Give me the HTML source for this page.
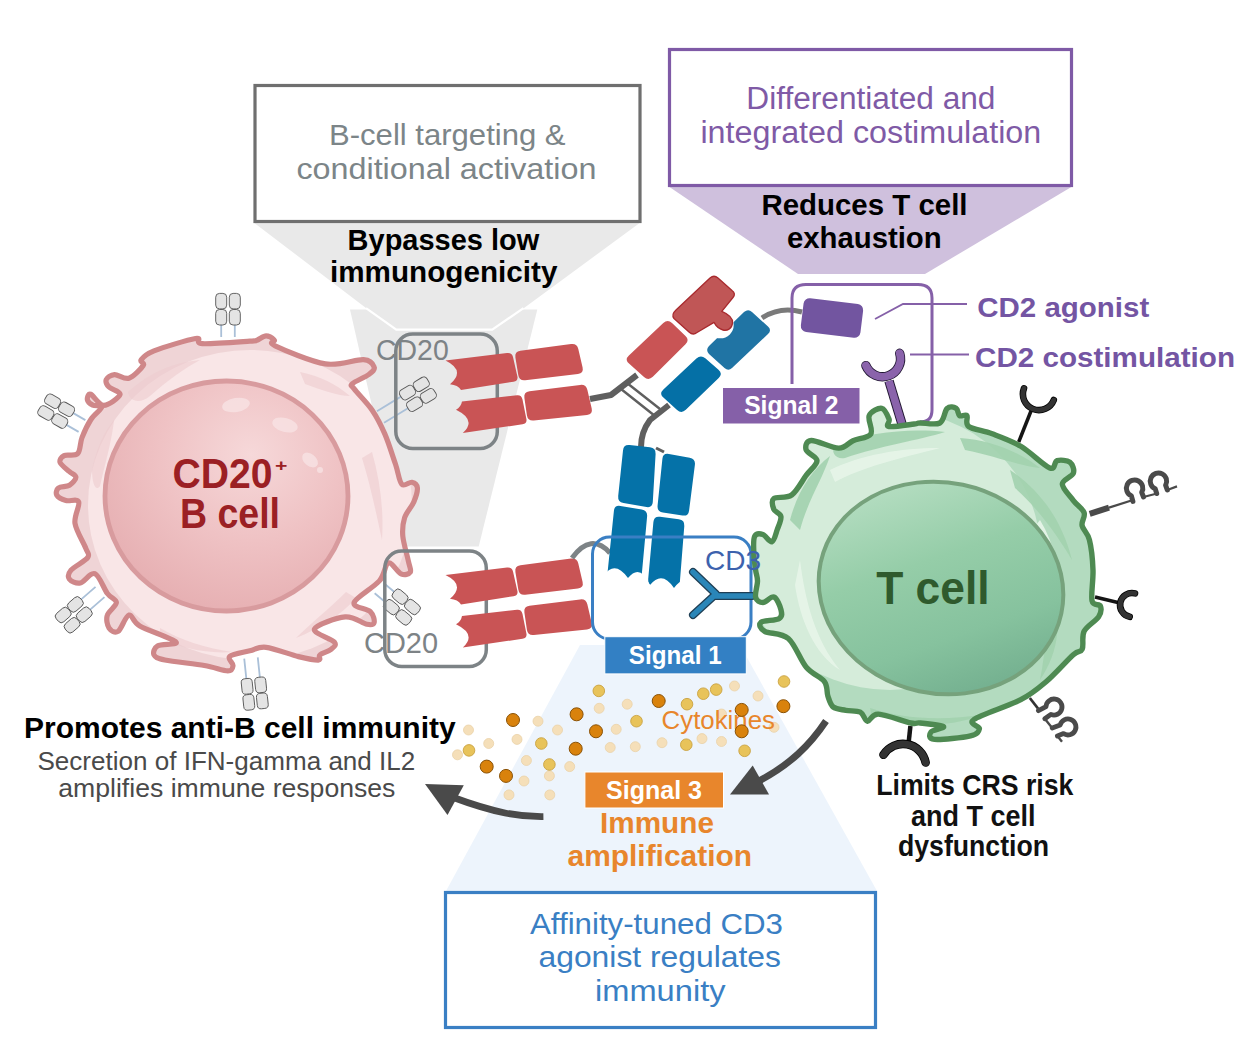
<!DOCTYPE html>
<html><head><meta charset="utf-8"><style>
html,body{margin:0;padding:0;background:#fff;width:1248px;height:1042px;overflow:hidden}
svg{display:block}
text{font-family:"Liberation Sans",sans-serif}
</style></head><body>
<svg width="1248" height="1042" viewBox="0 0 1248 1042" font-family="Liberation Sans, sans-serif"><polygon points="253,222 641,222 522,309.4 492.2,329.6 396.3,329.6 368,309.4" fill="#e9e9e9"/>
<polygon points="350,309.4 537.3,309.4 478.7,546.6 404,546.6" fill="#e9e9e9"/>
<polyline points="366,308.2 396.3,329.6 492.2,329.6 523.5,308.2" fill="none" stroke="#fff" stroke-width="2.2"/>
<polygon points="668,186 1073,186 925,274 798,274" fill="#cfc0dd"/>
<polygon points="580,645 740,645 877,891 446,891" fill="#edf4fc"/>
<rect x="255" y="85.5" width="385" height="136" fill="#fff" stroke="#6f6f6f" stroke-width="3.2"/>
<rect x="669.5" y="49.5" width="402" height="136" fill="#fff" stroke="#7f5aa6" stroke-width="3.2"/>
<rect x="445.5" y="892.5" width="430" height="135" fill="#fff" stroke="#3a7fc4" stroke-width="3.2"/>
<path d="M249.8,341.2 C258.9,340.6 254.3,341.1 257.0,340.2 C259.7,339.3 263.2,335.9 266.1,335.9 C269.0,335.9 272.7,338.5 274.2,340.1 C275.7,341.8 266.5,341.9 275.1,345.8 C283.6,349.8 310.7,361.5 325.4,363.9 C340.2,366.2 355.4,359.1 363.5,359.6 C371.7,360.2 373.4,364.7 374.2,367.1 C375.1,369.6 372.4,371.8 368.8,374.5 C365.2,377.3 354.9,381.2 352.5,383.6 C350.0,386.0 350.9,384.5 354.2,388.9 C357.5,393.4 367.1,402.7 372.2,410.2 C377.3,417.7 380.9,424.9 384.8,433.9 C388.7,443.0 392.7,456.1 395.6,464.5 C398.4,472.9 399.1,481.3 401.8,484.2 C404.5,487.2 409.2,481.7 411.8,482.3 C414.4,482.9 417.1,484.6 417.4,487.9 C417.7,491.2 415.9,497.0 413.8,502.0 C411.7,507.0 406.4,512.1 404.6,517.8 C402.8,523.5 402.2,528.8 402.8,536.1 C403.5,543.3 407.2,555.3 408.4,561.3 C409.7,567.3 411.5,570.1 410.3,572.2 C409.0,574.3 404.6,575.4 401.0,573.8 C397.3,572.3 392.0,561.8 388.4,563.0 C384.8,564.2 385.1,574.4 379.4,580.9 C373.7,587.5 355.6,597.5 354.1,602.6 C352.6,607.7 367.0,608.3 370.3,611.6 C373.6,614.9 374.7,620.4 374.1,622.6 C373.6,624.7 371.7,625.2 366.9,624.3 C362.1,623.4 353.9,616.1 345.2,616.9 C336.5,617.7 316.3,624.9 314.5,629.1 C312.7,633.3 331.7,638.8 334.4,642.2 C337.1,645.6 333.2,647.3 330.8,649.5 C328.4,651.6 322.0,653.1 319.9,654.9 C317.8,656.6 321.9,659.8 318.3,660.1 C314.7,660.3 307.2,658.7 298.5,656.6 C289.8,654.4 274.2,648.3 266.1,647.3 C257.9,646.4 255.9,649.3 249.8,650.8 C243.7,652.3 232.5,654.0 229.7,656.4 C226.9,658.9 233.4,663.1 233.0,665.5 C232.7,667.9 232.6,670.8 227.8,670.8 C223.0,670.8 214.9,667.3 204.4,665.5 C193.9,663.7 173.3,661.8 164.9,660.0 C156.5,658.2 155.2,657.2 154.0,654.9 C152.9,652.5 154.1,647.9 157.8,645.8 C161.4,643.6 178.9,645.3 175.9,642.0 C172.9,638.7 147.6,630.3 139.8,625.9 C131.9,621.4 132.6,614.2 129.0,615.1 C125.4,616.0 121.4,629.3 118.1,631.4 C114.7,633.5 110.8,630.5 109.0,627.9 C107.2,625.2 106.0,619.5 107.3,615.3 C108.5,611.0 116.4,606.2 116.4,602.6 C116.4,599.0 111.0,598.3 107.4,593.5 C103.8,588.7 99.4,575.5 94.9,573.7 C90.3,572.0 84.5,582.1 80.3,583.0 C76.0,583.9 70.8,581.2 69.3,579.1 C67.8,576.9 68.0,573.8 71.0,570.2 C74.1,566.6 85.2,561.2 87.7,557.5 C90.1,553.9 87.9,554.1 85.8,548.4 C83.7,542.7 76.2,531.1 75.0,523.4 C73.8,515.7 80.2,505.8 78.7,502.0 C77.2,498.2 69.6,501.7 65.9,500.5 C62.2,499.4 58.0,497.2 56.8,495.1 C55.6,493.0 56.5,489.5 58.6,487.9 C60.7,486.2 66.6,487.0 69.5,485.2 C72.4,483.4 75.9,479.5 75.9,477.2 C75.8,474.8 71.8,473.9 69.2,471.4 C66.5,469.0 61.0,465.1 60.1,462.5 C59.3,459.9 61.2,457.1 64.1,455.6 C67.0,454.1 74.6,456.7 77.6,453.7 C80.6,450.7 79.8,443.3 82.0,437.6 C84.2,431.9 87.6,424.6 90.9,419.5 C94.2,414.4 101.5,409.4 101.8,407.0 C102.1,404.6 95.2,406.5 92.8,405.2 C90.4,404.0 87.7,401.5 87.4,399.7 C87.1,397.8 88.0,393.4 90.8,394.3 C93.5,395.3 98.9,405.3 103.8,405.3 C108.6,405.3 119.1,397.5 120.0,394.5 C120.9,391.5 111.3,389.6 109.0,387.1 C106.7,384.6 105.4,381.6 106.3,379.5 C107.2,377.4 110.7,374.8 114.5,374.6 C118.3,374.4 124.1,379.7 128.9,378.2 C133.7,376.7 141.2,368.6 143.2,365.5 C145.3,362.5 139.4,362.3 141.2,359.8 C143.0,357.4 145.0,354.5 154.0,350.9 C163.1,347.4 187.5,339.8 195.5,338.5 C203.6,337.3 193.4,343.2 202.5,343.7 C211.5,344.1 240.7,341.8 249.8,341.2Z" fill="#efd4d6" stroke="none" stroke-linejoin="round"/>
<clipPath id="bclip"><path d="M249.8,341.2 C258.9,340.6 254.3,341.1 257.0,340.2 C259.7,339.3 263.2,335.9 266.1,335.9 C269.0,335.9 272.7,338.5 274.2,340.1 C275.7,341.8 266.5,341.9 275.1,345.8 C283.6,349.8 310.7,361.5 325.4,363.9 C340.2,366.2 355.4,359.1 363.5,359.6 C371.7,360.2 373.4,364.7 374.2,367.1 C375.1,369.6 372.4,371.8 368.8,374.5 C365.2,377.3 354.9,381.2 352.5,383.6 C350.0,386.0 350.9,384.5 354.2,388.9 C357.5,393.4 367.1,402.7 372.2,410.2 C377.3,417.7 380.9,424.9 384.8,433.9 C388.7,443.0 392.7,456.1 395.6,464.5 C398.4,472.9 399.1,481.3 401.8,484.2 C404.5,487.2 409.2,481.7 411.8,482.3 C414.4,482.9 417.1,484.6 417.4,487.9 C417.7,491.2 415.9,497.0 413.8,502.0 C411.7,507.0 406.4,512.1 404.6,517.8 C402.8,523.5 402.2,528.8 402.8,536.1 C403.5,543.3 407.2,555.3 408.4,561.3 C409.7,567.3 411.5,570.1 410.3,572.2 C409.0,574.3 404.6,575.4 401.0,573.8 C397.3,572.3 392.0,561.8 388.4,563.0 C384.8,564.2 385.1,574.4 379.4,580.9 C373.7,587.5 355.6,597.5 354.1,602.6 C352.6,607.7 367.0,608.3 370.3,611.6 C373.6,614.9 374.7,620.4 374.1,622.6 C373.6,624.7 371.7,625.2 366.9,624.3 C362.1,623.4 353.9,616.1 345.2,616.9 C336.5,617.7 316.3,624.9 314.5,629.1 C312.7,633.3 331.7,638.8 334.4,642.2 C337.1,645.6 333.2,647.3 330.8,649.5 C328.4,651.6 322.0,653.1 319.9,654.9 C317.8,656.6 321.9,659.8 318.3,660.1 C314.7,660.3 307.2,658.7 298.5,656.6 C289.8,654.4 274.2,648.3 266.1,647.3 C257.9,646.4 255.9,649.3 249.8,650.8 C243.7,652.3 232.5,654.0 229.7,656.4 C226.9,658.9 233.4,663.1 233.0,665.5 C232.7,667.9 232.6,670.8 227.8,670.8 C223.0,670.8 214.9,667.3 204.4,665.5 C193.9,663.7 173.3,661.8 164.9,660.0 C156.5,658.2 155.2,657.2 154.0,654.9 C152.9,652.5 154.1,647.9 157.8,645.8 C161.4,643.6 178.9,645.3 175.9,642.0 C172.9,638.7 147.6,630.3 139.8,625.9 C131.9,621.4 132.6,614.2 129.0,615.1 C125.4,616.0 121.4,629.3 118.1,631.4 C114.7,633.5 110.8,630.5 109.0,627.9 C107.2,625.2 106.0,619.5 107.3,615.3 C108.5,611.0 116.4,606.2 116.4,602.6 C116.4,599.0 111.0,598.3 107.4,593.5 C103.8,588.7 99.4,575.5 94.9,573.7 C90.3,572.0 84.5,582.1 80.3,583.0 C76.0,583.9 70.8,581.2 69.3,579.1 C67.8,576.9 68.0,573.8 71.0,570.2 C74.1,566.6 85.2,561.2 87.7,557.5 C90.1,553.9 87.9,554.1 85.8,548.4 C83.7,542.7 76.2,531.1 75.0,523.4 C73.8,515.7 80.2,505.8 78.7,502.0 C77.2,498.2 69.6,501.7 65.9,500.5 C62.2,499.4 58.0,497.2 56.8,495.1 C55.6,493.0 56.5,489.5 58.6,487.9 C60.7,486.2 66.6,487.0 69.5,485.2 C72.4,483.4 75.9,479.5 75.9,477.2 C75.8,474.8 71.8,473.9 69.2,471.4 C66.5,469.0 61.0,465.1 60.1,462.5 C59.3,459.9 61.2,457.1 64.1,455.6 C67.0,454.1 74.6,456.7 77.6,453.7 C80.6,450.7 79.8,443.3 82.0,437.6 C84.2,431.9 87.6,424.6 90.9,419.5 C94.2,414.4 101.5,409.4 101.8,407.0 C102.1,404.6 95.2,406.5 92.8,405.2 C90.4,404.0 87.7,401.5 87.4,399.7 C87.1,397.8 88.0,393.4 90.8,394.3 C93.5,395.3 98.9,405.3 103.8,405.3 C108.6,405.3 119.1,397.5 120.0,394.5 C120.9,391.5 111.3,389.6 109.0,387.1 C106.7,384.6 105.4,381.6 106.3,379.5 C107.2,377.4 110.7,374.8 114.5,374.6 C118.3,374.4 124.1,379.7 128.9,378.2 C133.7,376.7 141.2,368.6 143.2,365.5 C145.3,362.5 139.4,362.3 141.2,359.8 C143.0,357.4 145.0,354.5 154.0,350.9 C163.1,347.4 187.5,339.8 195.5,338.5 C203.6,337.3 193.4,343.2 202.5,343.7 C211.5,344.1 240.7,341.8 249.8,341.2Z"/></clipPath>
<g clip-path="url(#bclip)">
<ellipse cx="250" cy="505" rx="162" ry="155" fill="#f9e6e7"/>
<path d="M128,392 C150,372 175,362 200,360 C185,368 168,380 150,396 C140,404 130,402 128,392Z" fill="#ecccce" opacity="0.6"/>
<path d="M300,372 C320,376 336,384 350,396 C338,396 322,390 305,384Z" fill="#ecccce" opacity="0.6"/>
<path d="M92,470 C96,450 104,432 114,420 C112,440 106,460 100,486 C96,492 92,484 92,470Z" fill="#ecccce" opacity="0.6"/>
<path d="M356,598 C340,616 320,628 296,638 C310,624 330,608 346,592Z" fill="#ecccce" opacity="0.6"/>
<path d="M160,628 C180,640 205,648 232,652 C206,654 182,648 160,638Z" fill="#ecccce" opacity="0.6"/>
<path d="M372,452 C380,480 384,510 382,540 C376,512 370,484 362,458Z" fill="#ecccce" opacity="0.6"/>
</g>
<path d="M249.8,341.2 C258.9,340.6 254.3,341.1 257.0,340.2 C259.7,339.3 263.2,335.9 266.1,335.9 C269.0,335.9 272.7,338.5 274.2,340.1 C275.7,341.8 266.5,341.9 275.1,345.8 C283.6,349.8 310.7,361.5 325.4,363.9 C340.2,366.2 355.4,359.1 363.5,359.6 C371.7,360.2 373.4,364.7 374.2,367.1 C375.1,369.6 372.4,371.8 368.8,374.5 C365.2,377.3 354.9,381.2 352.5,383.6 C350.0,386.0 350.9,384.5 354.2,388.9 C357.5,393.4 367.1,402.7 372.2,410.2 C377.3,417.7 380.9,424.9 384.8,433.9 C388.7,443.0 392.7,456.1 395.6,464.5 C398.4,472.9 399.1,481.3 401.8,484.2 C404.5,487.2 409.2,481.7 411.8,482.3 C414.4,482.9 417.1,484.6 417.4,487.9 C417.7,491.2 415.9,497.0 413.8,502.0 C411.7,507.0 406.4,512.1 404.6,517.8 C402.8,523.5 402.2,528.8 402.8,536.1 C403.5,543.3 407.2,555.3 408.4,561.3 C409.7,567.3 411.5,570.1 410.3,572.2 C409.0,574.3 404.6,575.4 401.0,573.8 C397.3,572.3 392.0,561.8 388.4,563.0 C384.8,564.2 385.1,574.4 379.4,580.9 C373.7,587.5 355.6,597.5 354.1,602.6 C352.6,607.7 367.0,608.3 370.3,611.6 C373.6,614.9 374.7,620.4 374.1,622.6 C373.6,624.7 371.7,625.2 366.9,624.3 C362.1,623.4 353.9,616.1 345.2,616.9 C336.5,617.7 316.3,624.9 314.5,629.1 C312.7,633.3 331.7,638.8 334.4,642.2 C337.1,645.6 333.2,647.3 330.8,649.5 C328.4,651.6 322.0,653.1 319.9,654.9 C317.8,656.6 321.9,659.8 318.3,660.1 C314.7,660.3 307.2,658.7 298.5,656.6 C289.8,654.4 274.2,648.3 266.1,647.3 C257.9,646.4 255.9,649.3 249.8,650.8 C243.7,652.3 232.5,654.0 229.7,656.4 C226.9,658.9 233.4,663.1 233.0,665.5 C232.7,667.9 232.6,670.8 227.8,670.8 C223.0,670.8 214.9,667.3 204.4,665.5 C193.9,663.7 173.3,661.8 164.9,660.0 C156.5,658.2 155.2,657.2 154.0,654.9 C152.9,652.5 154.1,647.9 157.8,645.8 C161.4,643.6 178.9,645.3 175.9,642.0 C172.9,638.7 147.6,630.3 139.8,625.9 C131.9,621.4 132.6,614.2 129.0,615.1 C125.4,616.0 121.4,629.3 118.1,631.4 C114.7,633.5 110.8,630.5 109.0,627.9 C107.2,625.2 106.0,619.5 107.3,615.3 C108.5,611.0 116.4,606.2 116.4,602.6 C116.4,599.0 111.0,598.3 107.4,593.5 C103.8,588.7 99.4,575.5 94.9,573.7 C90.3,572.0 84.5,582.1 80.3,583.0 C76.0,583.9 70.8,581.2 69.3,579.1 C67.8,576.9 68.0,573.8 71.0,570.2 C74.1,566.6 85.2,561.2 87.7,557.5 C90.1,553.9 87.9,554.1 85.8,548.4 C83.7,542.7 76.2,531.1 75.0,523.4 C73.8,515.7 80.2,505.8 78.7,502.0 C77.2,498.2 69.6,501.7 65.9,500.5 C62.2,499.4 58.0,497.2 56.8,495.1 C55.6,493.0 56.5,489.5 58.6,487.9 C60.7,486.2 66.6,487.0 69.5,485.2 C72.4,483.4 75.9,479.5 75.9,477.2 C75.8,474.8 71.8,473.9 69.2,471.4 C66.5,469.0 61.0,465.1 60.1,462.5 C59.3,459.9 61.2,457.1 64.1,455.6 C67.0,454.1 74.6,456.7 77.6,453.7 C80.6,450.7 79.8,443.3 82.0,437.6 C84.2,431.9 87.6,424.6 90.9,419.5 C94.2,414.4 101.5,409.4 101.8,407.0 C102.1,404.6 95.2,406.5 92.8,405.2 C90.4,404.0 87.7,401.5 87.4,399.7 C87.1,397.8 88.0,393.4 90.8,394.3 C93.5,395.3 98.9,405.3 103.8,405.3 C108.6,405.3 119.1,397.5 120.0,394.5 C120.9,391.5 111.3,389.6 109.0,387.1 C106.7,384.6 105.4,381.6 106.3,379.5 C107.2,377.4 110.7,374.8 114.5,374.6 C118.3,374.4 124.1,379.7 128.9,378.2 C133.7,376.7 141.2,368.6 143.2,365.5 C145.3,362.5 139.4,362.3 141.2,359.8 C143.0,357.4 145.0,354.5 154.0,350.9 C163.1,347.4 187.5,339.8 195.5,338.5 C203.6,337.3 193.4,343.2 202.5,343.7 C211.5,344.1 240.7,341.8 249.8,341.2Z" fill="none" stroke="#cf8789" stroke-width="5.2" stroke-linejoin="round"/>
<defs><radialGradient id="nucB" cx="0.6" cy="0.32" r="0.75"><stop offset="0" stop-color="#f6d8d9"/><stop offset="0.5" stop-color="#efc2c4"/><stop offset="1" stop-color="#e5adb0"/></radialGradient><linearGradient id="nucT" x1="0.2" y1="0.1" x2="0.8" y2="0.95"><stop offset="0" stop-color="#b2dcbf"/><stop offset="0.35" stop-color="#95cda8"/><stop offset="0.7" stop-color="#86c29e"/><stop offset="1" stop-color="#72ae8e"/></linearGradient></defs>
<ellipse cx="226.5" cy="496" rx="121.5" ry="115" fill="url(#nucB)" stroke="#d89b9e" stroke-width="4.8"/>
<ellipse cx="236" cy="405" rx="14" ry="7" transform="rotate(-10 236 405)" fill="#f8e2e3" opacity="0.8"/>
<ellipse cx="285" cy="425" rx="13" ry="7" transform="rotate(15 285 425)" fill="#f8e2e3" opacity="0.8"/>
<ellipse cx="310" cy="460" rx="9" ry="6" transform="rotate(40 310 460)" fill="#f8e2e3" opacity="0.8"/>
<ellipse cx="320" cy="470" rx="3" ry="3" transform="rotate(0 320 470)" fill="#f8e2e3" opacity="0.8"/>
<text x="172.4" y="487.7" font-size="42" font-weight="bold" fill="#9b2024" textLength="100" lengthAdjust="spacingAndGlyphs">CD20</text>
<text x="275" y="471.4" font-size="17" font-weight="bold" fill="#9b2024" textLength="12.4" lengthAdjust="spacingAndGlyphs">+</text>
<text x="180" y="527.6" font-size="42" font-weight="bold" fill="#9b2024" textLength="100" lengthAdjust="spacingAndGlyphs">B cell</text>
<g transform="translate(228,337) rotate(0)"><path d="M-6.8,0 L-6.8,-12 M6.8,0 L6.8,-12" stroke="#aac0d8" stroke-width="1.8" fill="none"/><rect x="-12.3" y="-27.5" width="11" height="15.5" rx="3.8" fill="#e4e4e4" stroke="#555" stroke-width="0.9"/><rect x="-12.3" y="-43.6" width="11" height="15.5" rx="3.8" fill="#e4e4e4" stroke="#555" stroke-width="0.9"/><rect x="1.2999999999999998" y="-27.5" width="11" height="15.5" rx="3.8" fill="#e4e4e4" stroke="#555" stroke-width="0.9"/><rect x="1.2999999999999998" y="-43.6" width="11" height="15.5" rx="3.8" fill="#e4e4e4" stroke="#555" stroke-width="0.9"/></g>
<g transform="translate(82,426) rotate(-60)"><path d="M-6.8,0 L-6.8,-14 M6.8,0 L6.8,-14" stroke="#aac0d8" stroke-width="1.8" fill="none"/><rect x="-12.3" y="-29.5" width="11" height="15.5" rx="3.8" fill="#e4e4e4" stroke="#555" stroke-width="0.9"/><rect x="-12.3" y="-45.6" width="11" height="15.5" rx="3.8" fill="#e4e4e4" stroke="#555" stroke-width="0.9"/><rect x="1.2999999999999998" y="-29.5" width="11" height="15.5" rx="3.8" fill="#e4e4e4" stroke="#555" stroke-width="0.9"/><rect x="1.2999999999999998" y="-45.6" width="11" height="15.5" rx="3.8" fill="#e4e4e4" stroke="#555" stroke-width="0.9"/></g>
<g transform="translate(100,592) rotate(-131)"><path d="M-6.8,0 L-6.8,-19 M6.8,0 L6.8,-19" stroke="#aac0d8" stroke-width="1.8" fill="none"/><rect x="-12.3" y="-34.5" width="11" height="15.5" rx="3.8" fill="#e4e4e4" stroke="#555" stroke-width="0.9"/><rect x="-12.3" y="-50.6" width="11" height="15.5" rx="3.8" fill="#e4e4e4" stroke="#555" stroke-width="0.9"/><rect x="1.2999999999999998" y="-34.5" width="11" height="15.5" rx="3.8" fill="#e4e4e4" stroke="#555" stroke-width="0.9"/><rect x="1.2999999999999998" y="-50.6" width="11" height="15.5" rx="3.8" fill="#e4e4e4" stroke="#555" stroke-width="0.9"/></g>
<g transform="translate(251,658) rotate(174)"><path d="M-6.8,0 L-6.8,-20 M6.8,0 L6.8,-20" stroke="#aac0d8" stroke-width="1.8" fill="none"/><rect x="-12.3" y="-35.5" width="11" height="15.5" rx="3.8" fill="#e4e4e4" stroke="#555" stroke-width="0.9"/><rect x="-12.3" y="-51.6" width="11" height="15.5" rx="3.8" fill="#e4e4e4" stroke="#555" stroke-width="0.9"/><rect x="1.2999999999999998" y="-35.5" width="11" height="15.5" rx="3.8" fill="#e4e4e4" stroke="#555" stroke-width="0.9"/><rect x="1.2999999999999998" y="-51.6" width="11" height="15.5" rx="3.8" fill="#e4e4e4" stroke="#555" stroke-width="0.9"/></g>
<g transform="translate(380.5,417) rotate(58.7)"><path d="M-6.8,0 L-6.8,-28 M6.8,0 L6.8,-28" stroke="#aac0d8" stroke-width="1.8" fill="none"/><rect x="-12.3" y="-43.5" width="11" height="15.5" rx="3.8" fill="#e4e4e4" stroke="#555" stroke-width="0.9"/><rect x="-12.3" y="-59.6" width="11" height="15.5" rx="3.8" fill="#e4e4e4" stroke="#555" stroke-width="0.9"/><rect x="1.2999999999999998" y="-43.5" width="11" height="15.5" rx="3.8" fill="#e4e4e4" stroke="#555" stroke-width="0.9"/><rect x="1.2999999999999998" y="-59.6" width="11" height="15.5" rx="3.8" fill="#e4e4e4" stroke="#555" stroke-width="0.9"/></g>
<g transform="translate(379,588) rotate(129.8)"><path d="M-6.8,0 L-6.8,-14 M6.8,0 L6.8,-14" stroke="#aac0d8" stroke-width="1.8" fill="none"/><rect x="-12.3" y="-29.5" width="11" height="15.5" rx="3.8" fill="#e4e4e4" stroke="#555" stroke-width="0.9"/><rect x="-12.3" y="-45.6" width="11" height="15.5" rx="3.8" fill="#e4e4e4" stroke="#555" stroke-width="0.9"/><rect x="1.2999999999999998" y="-29.5" width="11" height="15.5" rx="3.8" fill="#e4e4e4" stroke="#555" stroke-width="0.9"/><rect x="1.2999999999999998" y="-45.6" width="11" height="15.5" rx="3.8" fill="#e4e4e4" stroke="#555" stroke-width="0.9"/></g>
<rect x="395.8" y="334" width="101.5" height="114.5" rx="17" fill="none" stroke="#7d8386" stroke-width="3.5"/>
<rect x="384.8" y="551" width="101.5" height="115.5" rx="17" fill="none" stroke="#7d8386" stroke-width="3.5"/>
<text x="376" y="360" font-size="30" fill="#7d8386" textLength="72.7" lengthAdjust="spacingAndGlyphs">CD20</text>
<text x="364" y="653" font-size="30" fill="#7d8386" textLength="74" lengthAdjust="spacingAndGlyphs">CD20</text>
<g transform="translate(0,0)" fill="#c95455"><path d="M445.5,360.5 L507,353 Q512,352.5 513,357 L517.5,377 Q518,381 513.5,381.7 L461,390 Q458,385 450,384.2 Q466,370.5 445.5,360.5 Z"/><path d="M462,401.5 L517,395.3 Q521.5,394.8 522.5,399.5 L526.5,419.5 Q527,423.6 522.5,424.3 L462.8,433 Q477.2,420 456,409.7 Q461,407 462,401.5 Z"/><path d="M515.4,357.5 Q514.5,351.6 520.4,350.8 L571.1,344.0 Q577.0,343.2 578.3,349.0 L582.6,367.5 Q583.9,373.3 577.9,374.0 L525.2,380.3 Q519.2,381.0 518.3,375.1 Z"/><path d="M524.4,397.9 Q523.5,392.0 529.5,391.3 L580.1,384.9 Q586.1,384.2 587.4,390.0 L591.7,408.5 Q593.0,414.3 587.0,414.9 L533.8,420.5 Q527.8,421.1 526.9,415.2 Z"/></g>
<g transform="translate(0,214.5)" fill="#c95455"><path d="M445.5,360.5 L507,353 Q512,352.5 513,357 L517.5,377 Q518,381 513.5,381.7 L461,390 Q458,385 450,384.2 Q466,370.5 445.5,360.5 Z"/><path d="M462,401.5 L517,395.3 Q521.5,394.8 522.5,399.5 L526.5,419.5 Q527,423.6 522.5,424.3 L462.8,433 Q477.2,420 456,409.7 Q461,407 462,401.5 Z"/><path d="M515.4,357.5 Q514.5,351.6 520.4,350.8 L571.1,344.0 Q577.0,343.2 578.3,349.0 L582.6,367.5 Q583.9,373.3 577.9,374.0 L525.2,380.3 Q519.2,381.0 518.3,375.1 Z"/><path d="M524.4,397.9 Q523.5,392.0 529.5,391.3 L580.1,384.9 Q586.1,384.2 587.4,390.0 L591.7,408.5 Q593.0,414.3 587.0,414.9 L533.8,420.5 Q527.8,421.1 526.9,415.2 Z"/></g>
<path d="M590,399 L611,395 L637,375" fill="none" stroke="#5f5f5f" stroke-width="6" stroke-linejoin="round"/>
<path d="M621,389 L655,416 M627,383 L660,409" fill="none" stroke="#5f5f5f" stroke-width="2.4"/>
<path d="M669,405 L650,420 Q641,432 641,447" fill="none" stroke="#5f5f5f" stroke-width="6" stroke-linejoin="round"/>
<path d="M656,448 L664,452" fill="none" stroke="#5f5f5f" stroke-width="3"/>
<path d="M572,558 Q591,532 610,553" fill="none" stroke="#7d8386" stroke-width="5"/>
<path d="M762,318 Q780,306 802,312" fill="none" stroke="#7a7a7a" stroke-width="5"/>
<path d="M629.0,363.5 Q624.5,359.5 628.9,355.4 L663.3,323.1 Q667.7,319.0 672.0,323.1 L685.5,335.9 Q689.8,340.0 685.5,344.2 L652.8,376.8 Q648.5,381.0 644.0,377.0 Z" fill="#c95455"/>
<path d="M709,346 L744,312 Q748.3,308.6 752,312 L768,326.5 Q772,330.1 768,334 L732,368 Q728.4,371.5 724.5,368 L709,354 Q705.3,350 709,346 Z" fill="#2074a4"/>
<circle cx="720.3" cy="324.9" r="13.4" fill="#fff"/>
<path d="M676,310 L710,278 Q714,274.4 718,278 L732,290.5 Q736.2,293.7 733,297.5 L721.8,311.4 C728,314 733,318 732.5,323 C732,329 727,331 723,330 C719,329 716,326 714,322.4 L697,332.5 Q693,335.7 689,332 L674,318.5 Q671,314.7 676,310 Z" fill="#c05656" stroke="#a82a2e" stroke-width="1.3" stroke-linejoin="round"/>
<path d="M663.4,397.5 Q659.0,393.5 663.4,389.4 L696.4,358.5 Q700.8,354.4 705.3,358.3 L718.5,369.8 Q723.0,373.7 718.7,377.9 L685.8,409.8 Q681.5,414.0 677.1,410.0 Z" fill="#0570a6"/>
<path d="M623.0,450.4 Q623.6,444.4 629.6,445.1 L650.0,447.3 Q656.0,448.0 655.6,454.0 L652.8,502.0 Q652.4,508.0 646.5,507.0 L623.5,503.0 Q617.6,502.0 618.2,496.0 Z" fill="#0572a8"/>
<path d="M662.4,458.8 Q663.0,452.8 668.9,453.9 L689.7,457.7 Q695.6,458.8 694.9,464.8 L689.1,510.4 Q688.4,516.4 682.5,515.5 L662.9,512.5 Q657.0,511.6 657.6,505.6 Z" fill="#0572a8"/>
<path d="M613.9,511.0 Q614.5,505.0 620.4,506.0 L641.7,509.4 Q647.6,510.4 647.1,516.4 L640.9,584.0 Q640.4,590.0 634.6,588.3 L612.6,581.7 Q606.8,580.0 607.4,574.0 Z" fill="#0572a8"/>
<path d="M653.4,522.0 Q654.0,516.0 660.0,516.8 L678.8,519.2 Q684.8,520.0 684.3,526.0 L679.3,589.0 Q678.8,595.0 673.1,593.2 L653.3,586.8 Q647.6,585.0 648.2,579.0 Z" fill="#0572a8"/>
<rect x="592.5" y="537" width="158.5" height="102" rx="17" fill="none" stroke="#3a7fc4" stroke-width="3"/>
<path d="M604,575 Q615,560 628,578 Q640,563 650,585 Q662,570 674,588 Q686,572 690,590 L690,630 L604,630 Z" fill="#fff"/>
<path d="M693,572 L716,594 L693,615 M716,596 L752,596" fill="none" stroke="#1f3f55" stroke-width="8" stroke-linecap="round" stroke-linejoin="round"/>
<path d="M693,572 L716,594 L693,615 M716,596 L752,596" fill="none" stroke="#2a86b8" stroke-width="5.5" stroke-linecap="round" stroke-linejoin="round"/><path d="M792,384 L792,298 Q792,284.5 806,284.5 L918,284.5 Q932,284.5 932,298 L932,410 Q932,422 920,422" fill="none" stroke="#8560a8" stroke-width="3"/>
<path d="M889,381 L902,424" stroke="#1f1630" stroke-width="9.5"/>
<path d="M889,381 L902,424" stroke="#8a63ab" stroke-width="7.6"/>
<path d="M1018.7,442 L1031,411" stroke="#151515" stroke-width="3.5"/>
<path d="M1024.0,388.3 A16,16 0 0,0 1053.8,400.0" fill="none" stroke="#000" stroke-width="6.6" stroke-linecap="round"/><path d="M1024.0,388.3 A16,16 0 0,0 1053.8,400.0" fill="none" stroke="#333" stroke-width="5" stroke-linecap="round"/>
<path d="M1089.7,513.8 L1109,507.6" stroke="#4a4a4a" stroke-width="6"/><path d="M1109,507.6 L1133,500" stroke="#4a4a4a" stroke-width="2.2"/><path d="M1143.5,497 L1157,493.5 M1167.3,490 L1177,486.4" stroke="#4a4a4a" stroke-width="2.2"/>
<path d="M1132.9,501.4 L1131.3,495.7 A8.2,8.2 0 1,1 1141.7,492.3 L1143.5,497.0 M1156.7,493.5 L1155.2,488.7 A8.2,8.2 0 1,1 1165.6,485.2 L1167.3,490.0" fill="none" stroke="#4a4a4a" stroke-width="5" stroke-linecap="round" stroke-linejoin="round"/>
<path d="M1095,597 L1120,603" stroke="#151515" stroke-width="3.5"/>
<path d="M1135.0,593.4 A12,12 0 1,0 1129.7,616.8" fill="none" stroke="#000" stroke-width="6.6" stroke-linecap="round"/><path d="M1135.0,593.4 A12,12 0 1,0 1129.7,616.8" fill="none" stroke="#333" stroke-width="5" stroke-linecap="round"/>
<path d="M1029.8,698 L1038,708.5" stroke="#333" stroke-width="2.8"/><path d="M1044.8,718.8 L1052.2,728 M1057.4,736 L1062,741.8" stroke="#4a4a4a" stroke-width="2.4"/>
<path d="M1038.4,710.7 L1046.0,706.6 A8,8 0 1,1 1050.9,714.4 L1044.8,718.8 M1052.2,728.0 L1060.2,725.0 A8,8 0 1,1 1063.5,733.6 L1057.4,736.0" fill="none" stroke="#4a4a4a" stroke-width="4.8" stroke-linecap="round" stroke-linejoin="round"/>
<path d="M910.4,726 L908.7,742" stroke="#151515" stroke-width="4.5"/>
<path d="M883.5,754.8 A23,23 0 0,1 925.6,762.5" fill="none" stroke="#000" stroke-width="8.6" stroke-linecap="round"/><path d="M883.5,754.8 A23,23 0 0,1 925.6,762.5" fill="none" stroke="#333" stroke-width="7" stroke-linecap="round"/>
<clipPath id="tclip"><path d="M920.1,423.0 C924.4,422.8 935.3,425.4 939.8,423.0 C944.4,420.6 944.4,410.8 947.2,408.4 C949.9,405.9 954.1,407.2 956.2,408.4 C958.2,409.6 957.8,414.4 959.6,415.7 C961.4,416.9 965.4,413.8 966.9,415.6 C968.4,417.5 964.5,423.5 968.7,426.5 C972.9,429.6 983.5,430.5 992.2,433.8 C1000.9,437.1 1011.2,440.6 1020.8,446.3 C1030.4,452.0 1043.7,465.5 1049.8,467.9 C1055.8,470.3 1053.8,461.6 1057.1,460.6 C1060.4,459.7 1067.1,460.2 1069.8,462.2 C1072.5,464.3 1074.6,469.5 1073.4,473.1 C1072.1,476.8 1062.4,479.6 1062.3,484.1 C1062.3,488.6 1069.6,495.5 1073.2,500.3 C1076.8,505.1 1082.7,508.5 1084.1,512.7 C1085.6,516.9 1081.2,521.1 1082.1,525.6 C1083.0,530.1 1087.6,532.5 1089.4,539.9 C1091.3,547.3 1092.6,559.9 1093.0,570.0 C1093.4,580.2 1090.8,594.7 1092.0,600.7 C1093.3,606.7 1099.3,603.4 1100.4,606.1 C1101.5,608.8 1101.3,612.7 1098.6,616.9 C1095.8,621.1 1086.8,625.9 1084.1,631.3 C1081.4,636.7 1084.0,645.2 1082.2,649.1 C1080.4,653.0 1079.3,649.3 1073.3,654.7 C1067.2,660.1 1054.9,674.2 1046.1,681.7 C1037.4,689.1 1032.8,693.4 1020.8,699.7 C1008.8,706.0 981.0,714.6 974.1,719.4 C967.2,724.2 980.0,725.9 979.4,728.6 C978.8,731.3 978.0,734.1 970.5,735.9 C963.0,737.7 941.1,740.0 934.5,739.4 C927.9,738.8 929.5,734.1 931.0,732.0 C932.5,729.9 945.3,728.1 943.5,726.6 C941.7,725.1 925.6,723.6 920.1,723.0 C914.6,722.4 917.7,724.5 910.7,723.0 C903.8,721.5 885.5,714.4 878.3,714.1 C871.1,713.8 870.5,721.5 867.5,721.2 C864.5,720.8 863.9,714.0 860.3,712.2 C856.7,710.4 850.4,711.2 845.8,710.3 C841.3,709.4 836.2,709.3 833.2,707.0 C830.2,704.6 829.3,700.3 827.9,696.1 C826.4,691.8 828.0,686.4 824.4,681.6 C820.8,676.8 812.3,674.5 806.3,667.3 C800.3,660.1 795.2,644.5 788.3,638.5 C781.4,632.5 769.3,634.0 764.7,631.3 C760.1,628.7 758.5,624.6 760.9,622.4 C763.4,620.3 776.0,620.6 779.3,618.4 C782.7,616.3 781.8,613.1 780.9,609.5 C780.1,606.0 777.0,598.3 774.0,597.1 C771.0,595.9 766.0,602.5 763.0,602.5 C759.9,602.5 756.5,600.7 755.6,597.1 C754.7,593.5 757.5,585.4 757.5,580.9 C757.5,576.4 756.2,574.8 755.6,570.0 C755.0,565.3 753.9,557.9 753.8,552.2 C753.6,546.6 753.1,539.3 754.7,536.3 C756.2,533.4 760.1,533.6 762.9,534.5 C765.8,535.4 769.5,542.6 772.0,541.7 C774.4,540.8 775.9,533.4 777.4,529.2 C778.9,525.0 781.5,519.8 780.9,516.5 C780.3,513.2 775.0,512.3 773.8,509.3 C772.7,506.3 770.8,500.9 773.8,498.5 C776.8,496.1 786.3,498.9 791.7,495.0 C797.1,491.1 802.0,480.9 806.3,475.2 C810.5,469.4 817.0,465.0 817.0,460.7 C817.0,456.5 807.0,453.2 806.1,449.8 C805.2,446.5 805.9,440.8 811.3,440.5 C816.7,440.2 831.7,448.1 838.7,448.1 C845.6,448.2 847.6,443.1 853.0,440.7 C858.3,438.4 868.1,438.0 870.8,433.9 C873.5,429.7 867.3,419.8 869.2,415.6 C871.0,411.3 878.5,407.7 881.8,408.3 C885.2,409.0 887.9,416.3 889.1,419.3 C890.3,422.4 884.9,425.8 889.1,426.5 C893.3,427.3 909.0,424.6 914.2,424.0 C919.3,423.4 915.8,423.2 920.1,423.0Z"/></clipPath>
<path d="M920.1,423.0 C924.4,422.8 935.3,425.4 939.8,423.0 C944.4,420.6 944.4,410.8 947.2,408.4 C949.9,405.9 954.1,407.2 956.2,408.4 C958.2,409.6 957.8,414.4 959.6,415.7 C961.4,416.9 965.4,413.8 966.9,415.6 C968.4,417.5 964.5,423.5 968.7,426.5 C972.9,429.6 983.5,430.5 992.2,433.8 C1000.9,437.1 1011.2,440.6 1020.8,446.3 C1030.4,452.0 1043.7,465.5 1049.8,467.9 C1055.8,470.3 1053.8,461.6 1057.1,460.6 C1060.4,459.7 1067.1,460.2 1069.8,462.2 C1072.5,464.3 1074.6,469.5 1073.4,473.1 C1072.1,476.8 1062.4,479.6 1062.3,484.1 C1062.3,488.6 1069.6,495.5 1073.2,500.3 C1076.8,505.1 1082.7,508.5 1084.1,512.7 C1085.6,516.9 1081.2,521.1 1082.1,525.6 C1083.0,530.1 1087.6,532.5 1089.4,539.9 C1091.3,547.3 1092.6,559.9 1093.0,570.0 C1093.4,580.2 1090.8,594.7 1092.0,600.7 C1093.3,606.7 1099.3,603.4 1100.4,606.1 C1101.5,608.8 1101.3,612.7 1098.6,616.9 C1095.8,621.1 1086.8,625.9 1084.1,631.3 C1081.4,636.7 1084.0,645.2 1082.2,649.1 C1080.4,653.0 1079.3,649.3 1073.3,654.7 C1067.2,660.1 1054.9,674.2 1046.1,681.7 C1037.4,689.1 1032.8,693.4 1020.8,699.7 C1008.8,706.0 981.0,714.6 974.1,719.4 C967.2,724.2 980.0,725.9 979.4,728.6 C978.8,731.3 978.0,734.1 970.5,735.9 C963.0,737.7 941.1,740.0 934.5,739.4 C927.9,738.8 929.5,734.1 931.0,732.0 C932.5,729.9 945.3,728.1 943.5,726.6 C941.7,725.1 925.6,723.6 920.1,723.0 C914.6,722.4 917.7,724.5 910.7,723.0 C903.8,721.5 885.5,714.4 878.3,714.1 C871.1,713.8 870.5,721.5 867.5,721.2 C864.5,720.8 863.9,714.0 860.3,712.2 C856.7,710.4 850.4,711.2 845.8,710.3 C841.3,709.4 836.2,709.3 833.2,707.0 C830.2,704.6 829.3,700.3 827.9,696.1 C826.4,691.8 828.0,686.4 824.4,681.6 C820.8,676.8 812.3,674.5 806.3,667.3 C800.3,660.1 795.2,644.5 788.3,638.5 C781.4,632.5 769.3,634.0 764.7,631.3 C760.1,628.7 758.5,624.6 760.9,622.4 C763.4,620.3 776.0,620.6 779.3,618.4 C782.7,616.3 781.8,613.1 780.9,609.5 C780.1,606.0 777.0,598.3 774.0,597.1 C771.0,595.9 766.0,602.5 763.0,602.5 C759.9,602.5 756.5,600.7 755.6,597.1 C754.7,593.5 757.5,585.4 757.5,580.9 C757.5,576.4 756.2,574.8 755.6,570.0 C755.0,565.3 753.9,557.9 753.8,552.2 C753.6,546.6 753.1,539.3 754.7,536.3 C756.2,533.4 760.1,533.6 762.9,534.5 C765.8,535.4 769.5,542.6 772.0,541.7 C774.4,540.8 775.9,533.4 777.4,529.2 C778.9,525.0 781.5,519.8 780.9,516.5 C780.3,513.2 775.0,512.3 773.8,509.3 C772.7,506.3 770.8,500.9 773.8,498.5 C776.8,496.1 786.3,498.9 791.7,495.0 C797.1,491.1 802.0,480.9 806.3,475.2 C810.5,469.4 817.0,465.0 817.0,460.7 C817.0,456.5 807.0,453.2 806.1,449.8 C805.2,446.5 805.9,440.8 811.3,440.5 C816.7,440.2 831.7,448.1 838.7,448.1 C845.6,448.2 847.6,443.1 853.0,440.7 C858.3,438.4 868.1,438.0 870.8,433.9 C873.5,429.7 867.3,419.8 869.2,415.6 C871.0,411.3 878.5,407.7 881.8,408.3 C885.2,409.0 887.9,416.3 889.1,419.3 C890.3,422.4 884.9,425.8 889.1,426.5 C893.3,427.3 909.0,424.6 914.2,424.0 C919.3,423.4 915.8,423.2 920.1,423.0Z" fill="#b3dbbf"/>
<g clip-path="url(#tclip)">
<ellipse cx="890" cy="550" rx="150" ry="140" fill="#d5ecda"/>
<path d="M835,445 C870,432 910,428 945,432 C920,440 880,446 845,458 C836,460 830,452 835,445Z" fill="#a2d1ae" opacity="0.9"/>
<path d="M960,438 C990,440 1020,452 1040,468 C1020,466 995,456 965,450Z" fill="#a2d1ae" opacity="0.9"/>
<path d="M1010,470 C1040,490 1062,520 1072,560 C1060,540 1040,510 1015,488Z" fill="#a2d1ae" opacity="0.9"/>
<path d="M1050,590 C1062,620 1060,650 1040,680 C1046,650 1048,620 1042,596Z" fill="#a2d1ae" opacity="0.9"/>
<path d="M790,520 C798,490 812,470 830,456 C822,480 808,500 800,530Z" fill="#a2d1ae" opacity="0.9"/>
<path d="M870,708 C900,718 940,722 985,714 C950,728 905,728 872,718Z" fill="#a2d1ae" opacity="0.9"/>
<path d="M800,560 C805,600 815,640 840,670 C815,655 800,620 795,585Z" fill="#e6f4e8" opacity="0.95"/>
<path d="M1040,520 C1055,545 1062,575 1060,610 C1052,580 1045,550 1032,530Z" fill="#e6f4e8" opacity="0.95"/>
<path d="M830,470 C860,455 900,448 940,448 C900,458 860,468 835,482Z" fill="#e6f4e8" opacity="0.95"/>
</g>
<path d="M920.1,423.0 C924.4,422.8 935.3,425.4 939.8,423.0 C944.4,420.6 944.4,410.8 947.2,408.4 C949.9,405.9 954.1,407.2 956.2,408.4 C958.2,409.6 957.8,414.4 959.6,415.7 C961.4,416.9 965.4,413.8 966.9,415.6 C968.4,417.5 964.5,423.5 968.7,426.5 C972.9,429.6 983.5,430.5 992.2,433.8 C1000.9,437.1 1011.2,440.6 1020.8,446.3 C1030.4,452.0 1043.7,465.5 1049.8,467.9 C1055.8,470.3 1053.8,461.6 1057.1,460.6 C1060.4,459.7 1067.1,460.2 1069.8,462.2 C1072.5,464.3 1074.6,469.5 1073.4,473.1 C1072.1,476.8 1062.4,479.6 1062.3,484.1 C1062.3,488.6 1069.6,495.5 1073.2,500.3 C1076.8,505.1 1082.7,508.5 1084.1,512.7 C1085.6,516.9 1081.2,521.1 1082.1,525.6 C1083.0,530.1 1087.6,532.5 1089.4,539.9 C1091.3,547.3 1092.6,559.9 1093.0,570.0 C1093.4,580.2 1090.8,594.7 1092.0,600.7 C1093.3,606.7 1099.3,603.4 1100.4,606.1 C1101.5,608.8 1101.3,612.7 1098.6,616.9 C1095.8,621.1 1086.8,625.9 1084.1,631.3 C1081.4,636.7 1084.0,645.2 1082.2,649.1 C1080.4,653.0 1079.3,649.3 1073.3,654.7 C1067.2,660.1 1054.9,674.2 1046.1,681.7 C1037.4,689.1 1032.8,693.4 1020.8,699.7 C1008.8,706.0 981.0,714.6 974.1,719.4 C967.2,724.2 980.0,725.9 979.4,728.6 C978.8,731.3 978.0,734.1 970.5,735.9 C963.0,737.7 941.1,740.0 934.5,739.4 C927.9,738.8 929.5,734.1 931.0,732.0 C932.5,729.9 945.3,728.1 943.5,726.6 C941.7,725.1 925.6,723.6 920.1,723.0 C914.6,722.4 917.7,724.5 910.7,723.0 C903.8,721.5 885.5,714.4 878.3,714.1 C871.1,713.8 870.5,721.5 867.5,721.2 C864.5,720.8 863.9,714.0 860.3,712.2 C856.7,710.4 850.4,711.2 845.8,710.3 C841.3,709.4 836.2,709.3 833.2,707.0 C830.2,704.6 829.3,700.3 827.9,696.1 C826.4,691.8 828.0,686.4 824.4,681.6 C820.8,676.8 812.3,674.5 806.3,667.3 C800.3,660.1 795.2,644.5 788.3,638.5 C781.4,632.5 769.3,634.0 764.7,631.3 C760.1,628.7 758.5,624.6 760.9,622.4 C763.4,620.3 776.0,620.6 779.3,618.4 C782.7,616.3 781.8,613.1 780.9,609.5 C780.1,606.0 777.0,598.3 774.0,597.1 C771.0,595.9 766.0,602.5 763.0,602.5 C759.9,602.5 756.5,600.7 755.6,597.1 C754.7,593.5 757.5,585.4 757.5,580.9 C757.5,576.4 756.2,574.8 755.6,570.0 C755.0,565.3 753.9,557.9 753.8,552.2 C753.6,546.6 753.1,539.3 754.7,536.3 C756.2,533.4 760.1,533.6 762.9,534.5 C765.8,535.4 769.5,542.6 772.0,541.7 C774.4,540.8 775.9,533.4 777.4,529.2 C778.9,525.0 781.5,519.8 780.9,516.5 C780.3,513.2 775.0,512.3 773.8,509.3 C772.7,506.3 770.8,500.9 773.8,498.5 C776.8,496.1 786.3,498.9 791.7,495.0 C797.1,491.1 802.0,480.9 806.3,475.2 C810.5,469.4 817.0,465.0 817.0,460.7 C817.0,456.5 807.0,453.2 806.1,449.8 C805.2,446.5 805.9,440.8 811.3,440.5 C816.7,440.2 831.7,448.1 838.7,448.1 C845.6,448.2 847.6,443.1 853.0,440.7 C858.3,438.4 868.1,438.0 870.8,433.9 C873.5,429.7 867.3,419.8 869.2,415.6 C871.0,411.3 878.5,407.7 881.8,408.3 C885.2,409.0 887.9,416.3 889.1,419.3 C890.3,422.4 884.9,425.8 889.1,426.5 C893.3,427.3 909.0,424.6 914.2,424.0 C919.3,423.4 915.8,423.2 920.1,423.0Z" fill="none" stroke="#4e8a52" stroke-width="5.4" stroke-linejoin="round"/>
<ellipse cx="941" cy="588" rx="123" ry="105.5" transform="rotate(12 941 588)" fill="url(#nucT)" stroke="#76a27c" stroke-width="4"/>
<text x="705" y="570" font-size="28" fill="#3d62ad" textLength="56" lengthAdjust="spacingAndGlyphs">CD3</text>
<text x="876.2" y="604" font-size="47" font-weight="bold" fill="#2f5a2d" textLength="113.4" lengthAdjust="spacingAndGlyphs">T cell</text>
<g transform="rotate(7 832 318)"><rect x="802" y="301" width="60" height="34" rx="6" fill="#7255a0"/></g>
<path d="M865.9,365.6 A18,18 0 0,0 899.7,353.3" fill="none" stroke="#1f1630" stroke-width="9.4" stroke-linecap="round"/><path d="M865.9,365.6 A18,18 0 0,0 899.7,353.3" fill="none" stroke="#8a63ab" stroke-width="7.8" stroke-linecap="round"/>
<path d="M875,319 L903,304 L967,304 M910,354.5 L969,354.5" fill="none" stroke="#8560a8" stroke-width="1.8"/>
<rect x="722.5" y="387.5" width="137.5" height="36.5" fill="#8560a8" stroke="#fff" stroke-width="1"/>
<text x="744.2" y="413.8" font-size="26" font-weight="bold" fill="#fff" textLength="94.3" lengthAdjust="spacingAndGlyphs">Signal 2</text>
<rect x="604.8" y="636.7" width="141.5" height="37.2" fill="#3380c4" stroke="#fff" stroke-width="1"/>
<text x="628.8" y="663.6" font-size="26" font-weight="bold" fill="#fff" textLength="92.8" lengthAdjust="spacingAndGlyphs">Signal 1</text>
<rect x="584.9" y="772" width="138.6" height="36" fill="#e8862c" stroke="#fff" stroke-width="1"/>
<text x="606" y="799" font-size="26" font-weight="bold" fill="#fff" textLength="96" lengthAdjust="spacingAndGlyphs">Signal 3</text>
<circle cx="468.5" cy="730" r="5" fill="#f5dfb9" stroke="#ead2a8" stroke-width="0.8"/>
<circle cx="488.7" cy="743.5" r="5" fill="#f5dfb9" stroke="#ead2a8" stroke-width="0.8"/>
<circle cx="457.5" cy="754.8" r="5" fill="#f5dfb9" stroke="#ead2a8" stroke-width="0.8"/>
<circle cx="517" cy="739.4" r="5" fill="#f5dfb9" stroke="#ead2a8" stroke-width="0.8"/>
<circle cx="538" cy="721.2" r="5" fill="#f5dfb9" stroke="#ead2a8" stroke-width="0.8"/>
<circle cx="557.5" cy="730" r="5" fill="#f5dfb9" stroke="#ead2a8" stroke-width="0.8"/>
<circle cx="526.4" cy="760.5" r="5" fill="#f5dfb9" stroke="#ead2a8" stroke-width="0.8"/>
<circle cx="549.4" cy="775.9" r="5" fill="#f5dfb9" stroke="#ead2a8" stroke-width="0.8"/>
<circle cx="524" cy="781" r="5" fill="#f5dfb9" stroke="#ead2a8" stroke-width="0.8"/>
<circle cx="509" cy="794.9" r="5" fill="#f5dfb9" stroke="#ead2a8" stroke-width="0.8"/>
<circle cx="549.8" cy="794.9" r="5" fill="#f5dfb9" stroke="#ead2a8" stroke-width="0.8"/>
<circle cx="569.7" cy="766.6" r="5" fill="#f5dfb9" stroke="#ead2a8" stroke-width="0.8"/>
<circle cx="599.2" cy="708.3" r="5" fill="#f5dfb9" stroke="#ead2a8" stroke-width="0.8"/>
<circle cx="627.2" cy="704.2" r="5" fill="#f5dfb9" stroke="#ead2a8" stroke-width="0.8"/>
<circle cx="616.2" cy="729.3" r="5" fill="#f5dfb9" stroke="#ead2a8" stroke-width="0.8"/>
<circle cx="610.2" cy="747.5" r="5" fill="#f5dfb9" stroke="#ead2a8" stroke-width="0.8"/>
<circle cx="635.3" cy="746.7" r="5" fill="#f5dfb9" stroke="#ead2a8" stroke-width="0.8"/>
<circle cx="662" cy="742.7" r="5" fill="#f5dfb9" stroke="#ead2a8" stroke-width="0.8"/>
<circle cx="702" cy="738.6" r="5" fill="#f5dfb9" stroke="#ead2a8" stroke-width="0.8"/>
<circle cx="721.5" cy="741.5" r="5" fill="#f5dfb9" stroke="#ead2a8" stroke-width="0.8"/>
<circle cx="734.5" cy="686" r="5" fill="#f5dfb9" stroke="#ead2a8" stroke-width="0.8"/>
<circle cx="758" cy="696" r="5" fill="#f5dfb9" stroke="#ead2a8" stroke-width="0.8"/>
<circle cx="774" cy="727.3" r="5" fill="#f5dfb9" stroke="#ead2a8" stroke-width="0.8"/>
<circle cx="721.5" cy="714" r="5" fill="#f5dfb9" stroke="#ead2a8" stroke-width="0.8"/>
<text x="661.6" y="729" font-size="25" fill="#e8862c" textLength="113.4" lengthAdjust="spacingAndGlyphs">Cytokines</text>
<circle cx="469" cy="750.4" r="5.8" fill="#e8c35a" stroke="#c9a23f" stroke-width="0.9"/>
<circle cx="541.3" cy="743.5" r="5.8" fill="#e8c35a" stroke="#c9a23f" stroke-width="0.9"/>
<circle cx="549.4" cy="764.5" r="5.8" fill="#e8c35a" stroke="#c9a23f" stroke-width="0.9"/>
<circle cx="636.5" cy="721.2" r="5.8" fill="#e8c35a" stroke="#c9a23f" stroke-width="0.9"/>
<circle cx="687" cy="704.2" r="5.8" fill="#e8c35a" stroke="#c9a23f" stroke-width="0.9"/>
<circle cx="703.3" cy="693.7" r="5.8" fill="#e8c35a" stroke="#c9a23f" stroke-width="0.9"/>
<circle cx="716.2" cy="689.6" r="5.8" fill="#e8c35a" stroke="#c9a23f" stroke-width="0.9"/>
<circle cx="686.3" cy="744.7" r="5.8" fill="#e8c35a" stroke="#c9a23f" stroke-width="0.9"/>
<circle cx="744.6" cy="750.8" r="5.8" fill="#e8c35a" stroke="#c9a23f" stroke-width="0.9"/>
<circle cx="598.8" cy="690.9" r="5.8" fill="#e8c35a" stroke="#c9a23f" stroke-width="0.9"/>
<circle cx="784" cy="681.5" r="5.8" fill="#e8c35a" stroke="#c9a23f" stroke-width="0.9"/>
<circle cx="513" cy="720" r="6.5" fill="#d9820c" stroke="#8a5206" stroke-width="1"/>
<circle cx="576.6" cy="714.3" r="6.5" fill="#d9820c" stroke="#8a5206" stroke-width="1"/>
<circle cx="596" cy="731.3" r="6.5" fill="#d9820c" stroke="#8a5206" stroke-width="1"/>
<circle cx="575.7" cy="748.7" r="6.5" fill="#d9820c" stroke="#8a5206" stroke-width="1"/>
<circle cx="486.7" cy="766.6" r="6.5" fill="#d9820c" stroke="#8a5206" stroke-width="1"/>
<circle cx="506" cy="775.9" r="6.5" fill="#d9820c" stroke="#8a5206" stroke-width="1"/>
<circle cx="658.7" cy="701" r="6.5" fill="#d9820c" stroke="#8a5206" stroke-width="1"/>
<circle cx="741.7" cy="709.9" r="6.5" fill="#d9820c" stroke="#8a5206" stroke-width="1"/>
<circle cx="741.7" cy="731.3" r="6.5" fill="#d9820c" stroke="#8a5206" stroke-width="1"/>
<circle cx="783.4" cy="706.2" r="6.5" fill="#d9820c" stroke="#8a5206" stroke-width="1"/>
<path d="M543.4,816.7 C520,817 495,813 452,797" fill="none" stroke="#4a4a4a" stroke-width="6.8"/>
<polygon points="425,784.1 463.8,785.2 447.5,815" fill="#4a4a4a"/>
<path d="M826,721 C810,745 790,765 757,782" fill="none" stroke="#4a4a4a" stroke-width="6.8"/>
<polygon points="730,794.5 752.7,765.5 769,794.5" fill="#4a4a4a"/>
<text x="329" y="144.6" font-size="30" font-weight="normal" fill="#7c8588" textLength="236.60000000000002" lengthAdjust="spacingAndGlyphs">B-cell targeting &</text>
<text x="296.4" y="179.2" font-size="30" font-weight="normal" fill="#7c8588" textLength="300.0" lengthAdjust="spacingAndGlyphs">conditional activation</text>
<text x="347.6" y="249.6" font-size="30" font-weight="bold" fill="#000" textLength="191.69999999999993" lengthAdjust="spacingAndGlyphs">Bypasses low</text>
<text x="330" y="282" font-size="30" font-weight="bold" fill="#000" textLength="227.39999999999998" lengthAdjust="spacingAndGlyphs">immunogenicity</text>
<text x="746.3" y="108.8" font-size="31" font-weight="normal" fill="#7f5aa6" textLength="249.10000000000002" lengthAdjust="spacingAndGlyphs">Differentiated and</text>
<text x="700.4" y="142.9" font-size="31" font-weight="normal" fill="#7f5aa6" textLength="340.9" lengthAdjust="spacingAndGlyphs">integrated costimulation</text>
<text x="761.4" y="214.5" font-size="30" font-weight="bold" fill="#000" textLength="206.10000000000002" lengthAdjust="spacingAndGlyphs">Reduces T cell</text>
<text x="786.9" y="247.7" font-size="30" font-weight="bold" fill="#000" textLength="154.80000000000007" lengthAdjust="spacingAndGlyphs">exhaustion</text>
<text x="977.3" y="316.5" font-size="28" font-weight="bold" fill="#7455a3" textLength="171.9000000000001" lengthAdjust="spacingAndGlyphs">CD2 agonist</text>
<text x="975" y="367.2" font-size="28" font-weight="bold" fill="#7455a3" textLength="260" lengthAdjust="spacingAndGlyphs">CD2 costimulation</text>
<text x="24" y="737.9" font-size="29" font-weight="bold" fill="#000" textLength="431.7" lengthAdjust="spacingAndGlyphs">Promotes anti-B cell immunity</text>
<text x="37.4" y="769.6" font-size="25" font-weight="normal" fill="#4a4a4a" textLength="377.90000000000003" lengthAdjust="spacingAndGlyphs">Secretion of IFN-gamma and IL2</text>
<text x="58.3" y="796.6" font-size="25" font-weight="normal" fill="#4a4a4a" textLength="337.09999999999997" lengthAdjust="spacingAndGlyphs">amplifies immune responses</text>
<text x="876.2" y="794.6" font-size="30" font-weight="bold" fill="#111" textLength="197.20000000000005" lengthAdjust="spacingAndGlyphs">Limits CRS risk</text>
<text x="911" y="825.5" font-size="30" font-weight="bold" fill="#111" textLength="124.5" lengthAdjust="spacingAndGlyphs">and T cell</text>
<text x="898" y="855.5" font-size="30" font-weight="bold" fill="#111" textLength="151" lengthAdjust="spacingAndGlyphs">dysfunction</text>
<text x="600" y="833.4" font-size="29" font-weight="bold" fill="#e8862c" textLength="113.89999999999998" lengthAdjust="spacingAndGlyphs">Immune</text>
<text x="567.5" y="866" font-size="29" font-weight="bold" fill="#e8862c" textLength="184.5" lengthAdjust="spacingAndGlyphs">amplification</text>
<text x="530" y="933.8" font-size="30" font-weight="normal" fill="#3a7fc4" textLength="253" lengthAdjust="spacingAndGlyphs">Affinity-tuned CD3</text>
<text x="538.5" y="967" font-size="30" font-weight="normal" fill="#3a7fc4" textLength="242.5" lengthAdjust="spacingAndGlyphs">agonist regulates</text>
<text x="595" y="1000.6" font-size="30" font-weight="normal" fill="#3a7fc4" textLength="130.5" lengthAdjust="spacingAndGlyphs">immunity</text></svg>
</body></html>
